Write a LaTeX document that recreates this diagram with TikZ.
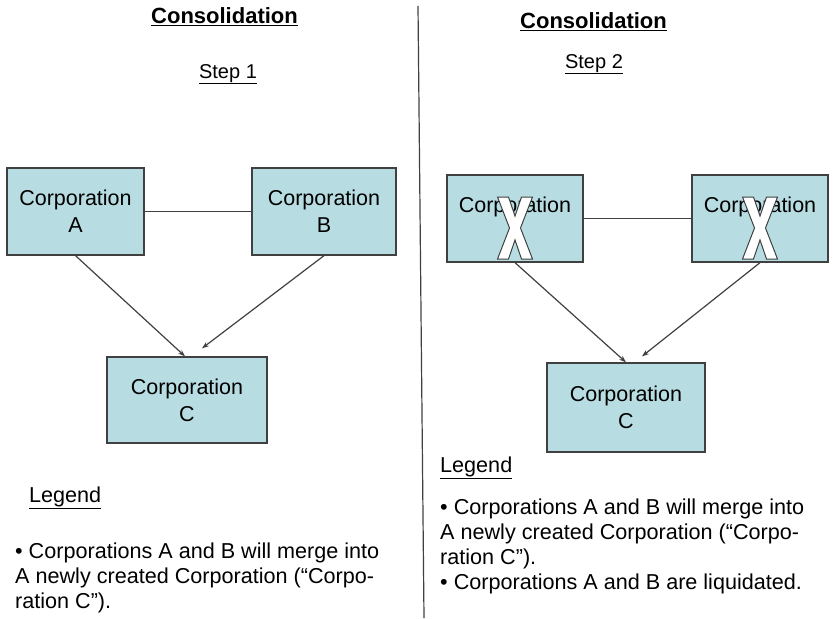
\documentclass[tikz,border=0pt]{standalone}
\usepackage{fontspec}
\setmainfont{Liberation Sans}
\usetikzlibrary{arrows.meta,calc}
\definecolor{corpfill}{RGB}{183,221,226}
\definecolor{corpline}{RGB}{64,64,64}

\tikzstyle{corp} = [rectangle, draw=corpline, line width=1.3pt, fill=corpfill,
	align=center, inner sep=0pt, font=\fontsize{21.5}{27}\selectfont]
\tikzstyle{headline} = [anchor=base, inner sep=0pt, font=\bfseries\fontsize{22}{26}\selectfont]
\tikzstyle{steplabel} = [anchor=base, inner sep=0pt, font=\fontsize{20}{24}\selectfont]
\tikzstyle{legtext} = [anchor=base west, align=left, inner sep=0pt,
	font=\fontsize{21.6}{25}\selectfont]
\tikzstyle{link} = [draw=corpline, line width=1.2pt]
\tikzstyle{flow} = [link, -{Stealth[length=7pt,width=5pt]}]

\tikzset{xmark/.pic={
	\filldraw[fill=white, draw=corpline, line width=1pt]
		(-17.5,-31) -- (-6.5,-31) -- (0,-12) -- (6.5,-31) -- (17.5,-31) -- (5.5,0)
		-- (17.5,31) -- (6.5,31) -- (0,12) -- (-6.5,31) -- (-17.5,31) -- (-5.5,0) -- cycle;
}}

\begin{document}
\begin{tikzpicture}[x=1pt,y=-1pt]
\useasboundingbox (0,0) rectangle (834,618);

% step 1
\node [headline] (t1) at (224.5,24) {\underline{Consolidation}};
\node [steplabel] (s1) at (228,78) {\underline{Step 1}};
\node [corp, minimum width=137pt, minimum height=87pt] (a1) at (75.5,211.5) {Corporation\\A};
\node [corp, minimum width=144pt, minimum height=87pt] (b1) at (324,211.5) {Corporation\\B};
\node [corp, minimum width=160pt, minimum height=86pt] (c1) at (187,400) {Corporation\\C};
\draw [link] (a1) -- (b1);
\draw [flow] (a1.south) -- ($(c1.north)+(-2,0)$);
\draw [flow] (b1.south) -- ($(c1.north)+(15,-8)$);
\node [legtext] (l1) at (29,502) {\underline{Legend}};
% base of a multi-line node is its last line
\node [legtext] (p1) at (15,608) {• Corporations A and B will merge into\\
	A newly created Corporation (“Corpo-\\ration C”).};

% divider
\draw [corpline, line width=1.2pt] (418,6) -- (424,618);

% step 2
\node [headline] (t2) at (593.5,29) {\underline{Consolidation}};
\node [steplabel] (s2) at (594,68) {\underline{Step 2}};
\node [corp, minimum width=136pt, minimum height=87pt] (a2) at (515,218.5) {Corporation\\A};
\node [corp, minimum width=136pt, minimum height=87pt] (b2) at (760,218.5) {Corporation\\B};
\node [corp, minimum width=158pt, minimum height=89pt] (c2) at (626,407.5) {Corporation\\C};
\draw [link] (a2) -- (b2);
\draw [flow] (a2.south) -- (c2.north);
\draw [flow] (b2.south) -- ($(c2.north)+(16,-6)$);
\pic at ($(a2)+(0,9.5)$) {xmark};
\pic at ($(b2)+(0,9.5)$) {xmark};
\node [legtext] (l2) at (440,472) {\underline{Legend}};
\node [legtext] (p2) at (440,589) {• Corporations A and B will merge into\\
	A newly created Corporation (“Corpo-\\ration C”).\\
	• Corporations A and B are liquidated.};
\end{tikzpicture}
\end{document}
